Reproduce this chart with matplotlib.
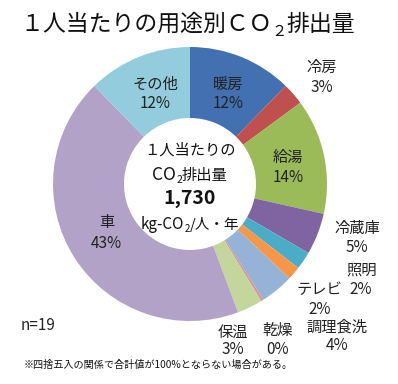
import matplotlib
matplotlib.use("Agg")
import matplotlib.pyplot as plt

plt.rcParams['font.family'] = ['Noto Sans CJK JP', 'DejaVu Sans']

# data (clockwise from 12 o'clock)
uses = ['暖房', '冷房', '給湯', '冷蔵庫', '照明', 'テレビ', '調理食洗', '乾燥', '保温', '車', 'その他']
shares = [12.3, 2.6, 13.6, 4.9, 2.1, 1.6, 3.9, 0.3, 3.0, 43.4, 12.3]
pct_labels = ['12%', '3%', '14%', '5%', '2%', '2%', '4%', '0%', '3%', '43%', '12%']
colors = ['#4270B0', '#C0504D', '#9BBB59', '#8064A2', '#4BACC6', '#F79646',
          '#95B3D7', '#D99694', '#C3D69B', '#B3A2C7', '#93CDDD']
total_co2 = '1,730'
n_samples = 19

W, H = 398, 384
fig = plt.figure(figsize=(W / 100, H / 100), dpi=100)
ax = fig.add_axes([0, 0, 1, 1])
ax.set_xlim(0, W)
ax.set_ylim(0, H)
ax.axis('off')

cx, cy, R, r = 190, 184, 137, 66
ax.pie(shares, colors=colors, startangle=90, counterclock=False,
       center=(cx, H - cy), radius=R,
       wedgeprops=dict(width=R - r, edgecolor='none'))
ax.set_xlim(0, W)
ax.set_ylim(0, H)

# label positions in pixels from top-left: (name, percent)
label_pos = [((228, 84), (228, 104)), ((322, 67), (322, 88)),
             ((288, 157), (288, 177)), ((357, 228), (357, 248)),
             ((362, 270), (361, 290)), ((319, 290), (320, 309)),
             ((337, 327), (337, 346)), ((278, 330), (278, 349)),
             ((233, 332), (233, 350)), ((107, 223), (106, 244)),
             ((155, 84), (155, 104))]
for name, pct, (p1, p2) in zip(uses, pct_labels, label_pos):
    ax.text(p1[0], H - p1[1], name, ha='center', va='center', fontsize=11, color='#222222')
    ax.text(p2[0], H - p2[1], pct, ha='center', va='center', fontsize=11, color='#222222')

renderer = fig.canvas.get_renderer()


def runs(x, base, parts, ha='center'):
    # parts: (text, size, drop in px, weight)
    items = []
    for s, size, dy, w in parts:
        t = fig.text(0, 0, s, fontsize=size, weight=w, va='baseline', color='#111111')
        items.append((t, t.get_window_extent(renderer).width, dy))
    total = sum(wd for _, wd, _ in items)
    pos = x - total / 2 if ha == 'center' else x
    for t, wd, dy in items:
        t.set_position((pos / W, (H - base - dy) / H))
        pos += wd


runs(20, 31, [('１人当たりの用途別ＣＯ', 16.5, 0, 'normal'), ('２', 11, 5, 'normal'),
              ('排出量', 16.5, 0, 'normal')], ha='left')

runs(cx, 155, [('１人当たりの', 11, 0, 'normal')])
runs(cx, 180, [('CO', 12.5, 0, 'normal'), ('2', 7.5, 3, 'normal'), ('排出量', 11, 0, 'normal')])
runs(cx, 204, [(total_co2, 14, 0, 'bold')])
runs(cx, 229, [('kg-CO', 11, 0, 'normal'), ('2', 7, 3, 'normal'), ('/人・年', 10.5, 0, 'normal')])

fig.text(21 / W, 1 - 325 / H, f'n={n_samples}', ha='left', va='center', fontsize=11, color='#222222')
fig.text(24 / W, 1 - 365 / H, '※四捨五入の関係で合計値が100%とならない場合がある。',
         ha='left', va='center', fontsize=7.3, color='#111111')

fig.savefig('out.png', dpi=100, facecolor='white')
